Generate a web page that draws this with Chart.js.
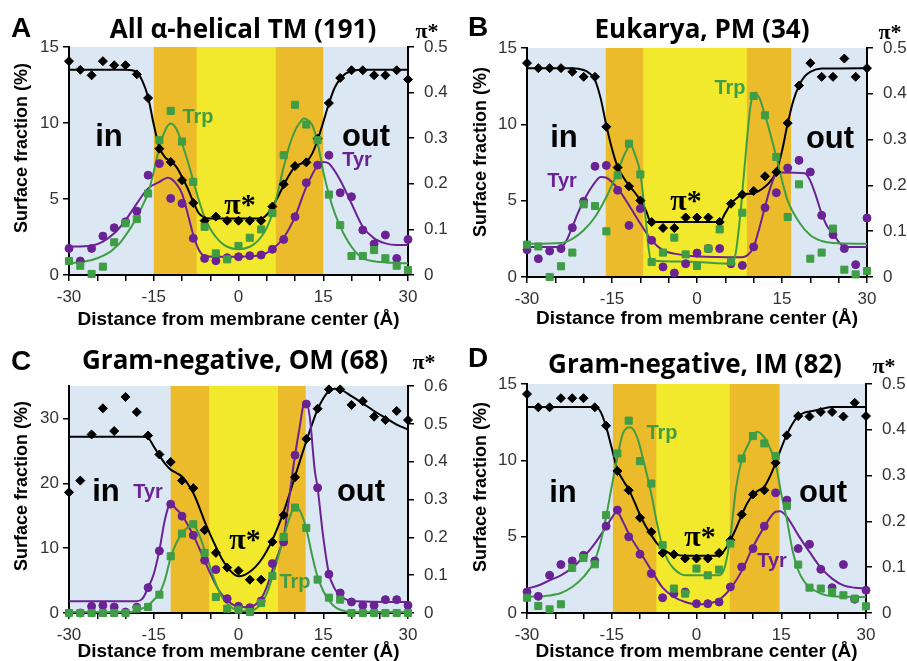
<!DOCTYPE html>
<html>
<head>
<meta charset="utf-8">
<script src="https://cdn.jsdelivr.net/npm/chart.js@4.4.0/dist/chart.umd.min.js"></script>
<style>
  body { margin: 0; background: #fff; width: 907px; height: 661px; overflow: hidden; position: relative; }
  canvas { position: absolute; }
</style>
</head>
<body>
<canvas id="pA" width="450" height="330" style="left:0;top:0"></canvas>
<canvas id="pB" width="457" height="330" style="left:450px;top:0"></canvas>
<canvas id="pC" width="450" height="331" style="left:0;top:330px"></canvas>
<canvas id="pD" width="457" height="331" style="left:450px;top:330px"></canvas>
<script>
// distance from membrane center (A), one point every 2 A
const dist = [-30,-28,-26,-24,-22,-20,-18,-16,-14,-12,-10,-8,-6,-4,-2,0,2,4,6,8,10,12,14,16,18,20,22,24,26,28,30];

// band edges: orange from b[0] to b[1], yellow b[1]..b[2], orange b[2]..b[3]
const aBands = [-15, -7.4, 6.6, 15];
const bBands = [-16.1, -9.5, 8.8, 16.6];
const cBands = [-12, -5.2, 7, 11.9];
const dBands = [-14.8, -7.1, 5.9, 14.7];

// ---- A: All alpha-helical TM (191)
const aTrp = [0.92,0.61,0.07,0.55,2.15,3.4,3.68,5.36,8.87,10.8,8.78,6.13,3.17,1.42,1.03,1.91,2.45,3.0,4.07,7.88,11.2,9.9,8.87,5.29,3.28,1.25,1.25,1.64,1.1,0.61,0.33];
const aTyr = [1.75,0.92,1.75,2.56,3.11,3.5,4.2,6.57,7.33,5.04,4.71,2.41,1.09,0.94,1.14,1.2,1.27,1.31,1.69,2.34,3.83,6.07,7.23,7.88,5.41,5.15,2.96,2.04,2.63,1.09,2.34];
const aPi  = [0.469,0.45,0.438,0.469,0.46,0.46,0.44,0.388,0.277,0.248,0.208,0.158,0.119,0.128,0.119,0.119,0.119,0.119,0.15,0.199,0.239,0.247,0.299,0.377,0.432,0.449,0.449,0.438,0.438,0.449,0.429];
const aTrpFit = [[-30,0.77],[-27,0.9],[-25,1.1],[-23,1.45],[-22,1.75],[-21,2.1],[-20,2.6],[-19,3.15],[-18,3.8],[-17,4.55],[-16,5.4],[-15,6.8],[-14,8.4],[-13,9.5],[-12,9.96],[-11,9.6],[-10,8.65],[-9,7.5],[-8,6.2],[-7,4.9],[-6,3.8],[-5,3.05],[-4,2.5],[-3,2.1],[-2,1.86],[0,1.7],[2,1.86],[3,2.1],[4,2.5],[5,3.1],[6,4.05],[7,5.5],[8,7.1],[9,8.5],[10,9.5],[11,10.1],[11.5,10.3],[12,10.25],[13,9.9],[14,8.7],[15,6.8],[16,5.3],[17,4.1],[18,3.2],[19,2.45],[20,1.86],[21,1.4],[22,1.1],[24,0.9],[27,0.8],[30,0.77]];
const aTyrFit = [[-30,1.86],[-26,1.93],[-24,2.2],[-22,2.74],[-20,3.6],[-18,4.7],[-16,5.7],[-14,6.13],[-12.5,6.39],[-11,6.0],[-10,5.36],[-9,4.05],[-8,2.63],[-7,1.64],[-6,1.25],[-4,1.2],[0,1.2],[4,1.31],[6,1.69],[8,2.47],[10,3.83],[12,5.8],[14,7.2],[15,7.44],[16,7.33],[18,6.24],[20,4.7],[22,3.17],[24,2.41],[26,2.08],[28,1.97],[30,1.97]];
const aPiFit = [[-30,0.45],[-20,0.45],[-18,0.445],[-17,0.425],[-16,0.39],[-15,0.33],[-14,0.28],[-13,0.258],[-12,0.25],[-11,0.237],[-10,0.215],[-9,0.19],[-8,0.16],[-7,0.135],[-6,0.126],[-5,0.124],[4,0.124],[5,0.132],[6,0.15],[7,0.172],[8,0.197],[9,0.22],[10,0.237],[11,0.244],[12,0.248],[13,0.265],[14,0.296],[15,0.335],[16,0.376],[17,0.41],[18,0.43],[19,0.442],[20,0.447],[22,0.45],[30,0.45]];

// ---- B: Eukarya, PM (34)
const bTrp = [2.12,2.0,0,0.7,1.6,4.76,4.65,2.99,6.66,8.73,6.72,0.98,1.6,2.58,1.48,0.72,1.86,3.12,1.0,4.21,11.86,10.59,7.86,3.93,6.07,1.2,1.6,3.17,0.48,0.17,0.39];
const bTyr = [1.79,1.2,1.7,1.86,3.23,4.96,7.25,7.31,5.68,3.38,4.48,2.4,0.66,0.26,0.87,1.57,1.86,1.86,0.87,0.76,1.97,4.54,5.52,7.14,7.64,6.88,4.04,2.77,1.86,0.81,3.86];
const bPi  = [0.467,0.456,0.456,0.456,0.448,0.437,0.437,0.328,0.239,0.198,0.167,0.12,0.107,0.107,0.13,0.13,0.13,0.12,0.16,0.18,0.188,0.22,0.229,0.336,0.418,0.467,0.437,0.437,0.477,0.437,0.456];
const bTrpFit = [[-30,2.18],[-24,2.23],[-22,2.5],[-20,3.06],[-18,3.93],[-16,5.24],[-14,6.88],[-13,7.86],[-12,8.6],[-11.8,8.73],[-11,8.08],[-10,6.77],[-9.1,3.93],[-8.2,1.2],[-7,1.05],[0,0.98],[6,0.87],[6.8,1.5],[7.6,3.93],[8.5,7.64],[9.4,11.1],[10,11.9],[10.6,11.9],[12,10.6],[14,7.86],[15.3,5.9],[16,5.0],[18,3.6],[20,2.73],[22,2.36],[24,2.23],[30,2.18]];
const bTyrFit = [[-30,1.96],[-24,1.96],[-23,2.4],[-22,3.28],[-21,4.2],[-20,5.0],[-18,6.2],[-17,6.55],[-16,6.5],[-14,5.8],[-12,4.7],[-10,3.5],[-8,2.4],[-6,1.75],[-4,1.53],[0,1.35],[8,1.3],[9,1.45],[10,1.97],[11,3.2],[12,4.6],[13,5.9],[14,6.77],[15,6.85],[19,6.8],[20,6.3],[21,5.3],[22,4.15],[23,3.3],[24,2.84],[25,2.3],[26,1.96],[30,1.96]];
const bPiFit = [[-30,0.456],[-22,0.456],[-20,0.452],[-19,0.445],[-18,0.43],[-17,0.39],[-16,0.331],[-15,0.28],[-14,0.24],[-13,0.218],[-12,0.2],[-11,0.185],[-10,0.167],[-9,0.145],[-8.3,0.122],[-8,0.12],[4,0.12],[5,0.14],[6,0.16],[7,0.172],[8,0.18],[10,0.183],[12,0.197],[13,0.21],[14,0.23],[15,0.275],[16,0.335],[17,0.385],[18,0.418],[19,0.438],[20,0.448],[22,0.455],[30,0.456]];

// ---- C: Gram-negative, OM (68)
const cTrp = [0,0,0,0,0,0,0.67,0.93,2.83,8.75,12.25,13.69,9.26,2.47,0.67,0.51,0.15,1.54,5.71,11.73,16.26,13.12,5.15,2.37,2.06,0,0,0,0,0,0];
const cTyr = [0,0,1.03,1.18,0.93,0.15,0.9,3.91,9.57,16.78,14.93,11.99,8.13,6.69,2.21,1.03,0.82,1.85,7.62,10.96,24.34,32.22,19.3,5.97,3.09,1.7,1.18,1.18,2.06,2.06,1.18];
const cPi  = [0.319,0.35,0.472,0.541,0.481,0.571,0.531,0.469,0.419,0.399,0.35,0.33,0.219,0.159,0.12,0.112,0.088,0.088,0.188,0.259,0.359,0.46,0.54,0.591,0.591,0.55,0.56,0.519,0.51,0.534,0.51];
const cTrpFit = [[-30,0.15],[-19,0.15],[-18,0.4],[-17,0.7],[-16,1.2],[-15,2.0],[-14,3.0],[-13,5.2],[-12,8.6],[-11,10.8],[-10,12.25],[-9,13.2],[-8.3,13.5],[-7.5,13.0],[-6.8,11.7],[-6,9.7],[-5,7.0],[-4,4.5],[-3,2.6],[-2,1.44],[-1,0.7],[0,0.4],[2,0.3],[3,0.6],[4,1.44],[5,3.0],[6,5.56],[7,8.6],[8,11.7],[9,14.6],[10,16.4],[10.8,15.9],[12,13.0],[13,9.0],[14,5.56],[15,3.4],[16,1.96],[17,1.0],[18,0.5],[20,0.15],[30,0.15]];
const cTyrFit = [[-30,1.8],[-18,1.8],[-17,2.2],[-16,3.9],[-15,6.0],[-14,9.7],[-13,14.5],[-12,16.9],[-11,16.0],[-10,15.1],[-9,13.6],[-8,12.0],[-7,10.1],[-6,8.1],[-5,6.1],[-4,4.3],[-3,2.9],[-2,1.96],[-1,1.3],[0,1.03],[1,0.9],[2,0.93],[3,1.3],[4,2.2],[5,4.0],[6,6.6],[7,9.0],[8,11.7],[9,18.0],[10,24.3],[10.8,28.5],[11.5,32.0],[12,32.3],[12.6,30.3],[13.5,22.0],[14,19.3],[15,11.7],[16,6.1],[17,3.8],[18,2.7],[19,2.1],[20,1.85],[30,1.7]];
const cPiFit = [[-30,0.466],[-17,0.466],[-16,0.463],[-15,0.44],[-14,0.416],[-13,0.395],[-12,0.379],[-11,0.37],[-10,0.361],[-9,0.342],[-8,0.317],[-7,0.282],[-6,0.242],[-5,0.207],[-4,0.175],[-3,0.145],[-2,0.122],[-1,0.105],[0,0.097],[1,0.1],[2,0.109],[3,0.122],[4,0.14],[5,0.164],[6,0.193],[7,0.228],[8,0.268],[9,0.313],[10,0.361],[11,0.408],[12,0.454],[13,0.498],[14,0.538],[15,0.567],[16,0.587],[17,0.593],[18,0.591],[20,0.573],[22,0.554],[24,0.534],[26,0.516],[28,0.498],[30,0.485]];

// ---- D: Gram-negative, IM (82)
const dTrp = [1.0,0.46,0.24,0.57,2.95,3.6,3.19,6.41,10.45,12.6,9.95,8.48,4.44,1.6,1.27,2.91,2.47,2.84,4.55,10.12,11.59,11.11,10.28,7.02,3.17,1.66,1.6,1.38,1.16,0.94,0.44];
const dTyr = [1.38,1.09,2.47,3.17,3.41,3.78,3.41,5.69,6.74,4.99,3.85,2.58,1.0,1.27,1.38,0.61,0.61,0.72,1.71,3.02,4.22,5.69,7.87,7.39,4.22,4.5,2.86,1.66,3.17,0.9,1.49];
const dPi  = [0.478,0.449,0.449,0.469,0.469,0.469,0.449,0.409,0.31,0.268,0.208,0.177,0.131,0.128,0.119,0.119,0.119,0.131,0.159,0.215,0.259,0.268,0.328,0.388,0.43,0.429,0.439,0.439,0.429,0.459,0.43];
const dTrpFit = [[-30,1.05],[-26,1.15],[-24,1.31],[-22,1.7],[-20,2.36],[-18,3.45],[-17,4.6],[-16,6.3],[-15,8.3],[-14,10.2],[-13,11.8],[-11.7,12.16],[-10.5,11.5],[-9.4,10.0],[-8,7.8],[-7,5.9],[-6,4.3],[-5,3.4],[-4,2.9],[-3,2.6],[-2,2.47],[4,2.47],[5,3.0],[6,5.0],[7,8.2],[8,10.0],[9.5,11.3],[10.7,11.87],[12,11.5],[13,10.8],[14,9.8],[15,7.8],[16,6.1],[17,4.1],[18,2.8],[19,2.1],[20,1.7],[22,1.27],[24,1.1],[30,1.05]];
const dTyrFit = [[-30,1.6],[-28,1.8],[-26,2.14],[-24,2.47],[-22,2.97],[-20,3.67],[-18,4.55],[-16,5.64],[-14.7,6.4],[-14.1,6.63],[-13,5.97],[-12,5.2],[-10,4.0],[-8,2.8],[-6,1.66],[-4,1.05],[-2,0.72],[0,0.57],[2,0.61],[4,0.87],[6,1.6],[8,2.76],[10,4.33],[12,5.64],[14,6.63],[14.8,6.67],[16,6.3],[18,5.1],[20,4.0],[22,2.97],[24,2.25],[26,1.81],[28,1.66],[30,1.6]];
const dPiFit = [[-30,0.45],[-18,0.45],[-17,0.44],[-16,0.407],[-15,0.36],[-14,0.313],[-13,0.29],[-12,0.27],[-11,0.243],[-10,0.214],[-9,0.19],[-8,0.17],[-7,0.152],[-6,0.141],[-5,0.132],[-4,0.128],[-2,0.125],[4,0.125],[5,0.138],[6,0.159],[7,0.185],[8,0.214],[9,0.24],[10,0.258],[11,0.268],[12,0.276],[13,0.298],[14,0.327],[15,0.36],[16,0.39],[17,0.413],[18,0.43],[19,0.437],[20,0.44],[22,0.445],[24,0.45],[30,0.45]];

const GREEN = '#3f9d45', PURPLE = '#6a2295', BLUE_BG = '#dbe8f3', ORANGE = '#ecbb2b', YELLOW = '#f2e82c';
const SANS = '"Liberation Sans", Arial, sans-serif';
const F_LETTER = 'bold 28px ' + SANS;
const F_TITLE = 'bold 26px "Open Sans", sans-serif';
const F_PISMALL = 'bold 22px "Liberation Serif", serif';
const F_INOUT = 'bold 31px ' + SANS;
const F_SER = 'bold 20px ' + SANS;
const F_PIBIG = 'bold 30px "Liberation Serif", serif';
const F_YTITLE = 'bold 18px ' + SANS;
const F_XTITLE = 'bold 19px ' + SANS;

function pairs(arr) { return arr.map(p => ({x: p[0], y: p[1]})); }
function pts(vals) { return vals.map((v, i) => ({x: dist[i], y: v})); }

function fitSet(arr, color, axis) {
  return { type: 'line', data: pairs(arr), yAxisID: axis, borderColor: color, borderWidth: 2,
    pointRadius: 0, fill: false, cubicInterpolationMode: 'monotone', clip: 4, order: 2 };
}
function ptSet(vals, color, style, r, axis) {
  return { type: 'scatter', data: pts(vals), yAxisID: axis, backgroundColor: color, borderColor: color,
    borderWidth: 1, pointStyle: style, pointRadius: r, clip: false, order: 1 };
}

const bgPlugin = {
  id: 'bands',
  beforeDraw(chart, args, opts) {
    const {ctx, chartArea: a, scales: {x}} = chart;
    const b = opts.edges;
    ctx.save();
    ctx.fillStyle = BLUE_BG;
    ctx.fillRect(a.left, a.top, a.right - a.left, a.bottom - a.top);
    ctx.fillStyle = ORANGE;
    ctx.fillRect(x.getPixelForValue(b[0]), a.top, x.getPixelForValue(b[3]) - x.getPixelForValue(b[0]), a.bottom - a.top);
    ctx.fillStyle = YELLOW;
    ctx.fillRect(x.getPixelForValue(b[1]), a.top, x.getPixelForValue(b[2]) - x.getPixelForValue(b[1]), a.bottom - a.top);
    ctx.restore();
  }
};

const textPlugin = {
  id: 'texts',
  afterDraw(chart, args, opts) {
    const ctx = chart.ctx, a = chart.chartArea;
    ctx.save();
    ctx.textBaseline = 'middle';
    opts.items.forEach(t => {
      ctx.font = t[3];
      ctx.fillStyle = t[4];
      ctx.textAlign = t[5] || 'center';
      ctx.fillText(t[0], t[1], t[2]);
    });
    ctx.fillStyle = '#000';
    ctx.textAlign = 'center';
    // x axis title
    ctx.font = F_XTITLE;
    ctx.fillText('Distance from membrane center (\u00c5)', (a.left + a.right) / 2, opts.xTitleY);
    // rotated left axis title
    ctx.font = F_YTITLE;
    ctx.translate(opts.yTitle[0], opts.yTitle[1]);
    ctx.rotate(-Math.PI / 2);
    ctx.fillText('Surface fraction (%)', 0, 0);
    ctx.restore();
  }
};

function panel(id, p) {
  const W = p.W, H = p.H;
  new Chart(document.getElementById(id), {
    data: { datasets: [
      fitSet(p.trpFit, GREEN, 'y'),
      fitSet(p.tyrFit, PURPLE, 'y'),
      fitSet(p.piFit, '#000', 'y1'),
      ptSet(p.trp, GREEN, 'rect', 5, 'y'),
      ptSet(p.tyr, PURPLE, 'circle', 4, 'y'),
      ptSet(p.pi, '#000', 'rectRot', 4.5, 'y1')
    ]},
    options: {
      responsive: false,
      animation: false,
      layout: { padding: { top: p.top, left: 0, right: 0, bottom: 0 } },
      plugins: {
        legend: { display: false },
        tooltip: { enabled: false },
        bands: { edges: p.bands },
        texts: { items: p.texts, yTitle: p.yTitle, xTitleY: p.xTitleY }
      },
      scales: {
        x: {
          type: 'linear', min: -30, max: 30,
          ticks: { stepSize: 5, autoSkip: false, maxRotation: 0, padding: 6, color: '#333',
            font: { family: SANS, size: 17 },
            callback: v => (v % 15 === 0 ? String(v) : '') },
          grid: { drawOnChartArea: false, drawTicks: true, tickLength: 6, color: '#000', lineWidth: 1.5 },
          border: { display: true, color: '#000', width: 2 },
          afterFit: s => { s.height = H - p.bottom; }
        },
        y: {
          position: 'left', min: 0, max: p.yMax,
          ticks: { stepSize: p.yStep, includeBounds: false, padding: 4, color: '#333',
            font: { family: SANS, size: 17 } },
          grid: { drawOnChartArea: false, drawTicks: true, tickLength: 6, color: '#000', lineWidth: 1.5 },
          border: { display: true, color: '#000', width: 2 },
          afterFit: s => { s.width = p.left; }
        },
        y1: {
          position: 'right', min: 0, max: p.piMax,
          ticks: { stepSize: 0.1, padding: 10, color: '#333',
            font: { family: SANS, size: 17 } },
          grid: { drawOnChartArea: false, drawTicks: true, tickLength: 6, color: '#000', lineWidth: 1.5 },
          border: { display: true, color: '#000', width: 2 },
          afterFit: s => { s.width = W - p.right; }
        }
      }
    },
    plugins: [bgPlugin, textPlugin]
  });
}

panel('pA', {
  W: 450, H: 330, left: 69, right: 408, top: 47, bottom: 275,
  yMax: 15, yStep: 5, piMax: 0.5, bands: aBands,
  trp: aTrp, tyr: aTyr, pi: aPi, trpFit: aTrpFit, tyrFit: aTyrFit, piFit: aPiFit,
  yTitle: [22, 148], xTitleY: 320,
  texts: [
    ['A', 11, 29, F_LETTER, '#000', 'left'],
    ['All \u03b1-helical TM (191)', 243, 31, F_TITLE, '#000'],
    ['\u03c0*', 427, 32, F_PISMALL, '#000'],
    ['in', 109, 137, F_INOUT, '#000'],
    ['out', 366, 137, F_INOUT, '#000'],
    ['Trp', 198, 117, F_SER, GREEN],
    ['Tyr', 357, 160, F_SER, PURPLE],
    ['\u03c0*', 240, 206, F_PIBIG, '#000']
  ]
});

panel('pB', {
  W: 457, H: 330, left: 77, right: 417, top: 48, bottom: 277,
  yMax: 15, yStep: 5, piMax: 0.5, bands: bBands,
  trp: bTrp, tyr: bTyr, pi: bPi, trpFit: bTrpFit, tyrFit: bTyrFit, piFit: bPiFit,
  yTitle: [31, 152], xTitleY: 319,
  texts: [
    ['B', 18, 28, F_LETTER, '#000', 'left'],
    ['Eukarya, PM (34)', 252, 31, F_TITLE, '#000'],
    ['\u03c0*', 440, 33, F_PISMALL, '#000'],
    ['in', 114, 138, F_INOUT, '#000'],
    ['out', 380, 139, F_INOUT, '#000'],
    ['Trp', 280, 88, F_SER, GREEN],
    ['Tyr', 112, 181, F_SER, PURPLE],
    ['\u03c0*', 236, 202, F_PIBIG, '#000']
  ]
});

panel('pC', {
  W: 450, H: 331, left: 69, right: 408, top: 56, bottom: 283,
  yMax: 35, yStep: 10, piMax: 0.6, bands: cBands,
  trp: cTrp, tyr: cTyr, pi: cPi, trpFit: cTrpFit, tyrFit: cTyrFit, piFit: cPiFit,
  yTitle: [22, 156], xTitleY: 322,
  texts: [
    ['C', 11, 32, F_LETTER, '#000', 'left'],
    ['Gram-negative, OM (68)', 235, 32, F_TITLE, '#000'],
    ['\u03c0*', 424, 33, F_PISMALL, '#000'],
    ['in', 106, 162, F_INOUT, '#000'],
    ['Tyr', 148, 162, F_SER, PURPLE],
    ['out', 361, 162, F_INOUT, '#000'],
    ['\u03c0*', 245, 211, F_PIBIG, '#000'],
    ['Trp', 295, 252, F_SER, GREEN]
  ]
});

panel('pD', {
  W: 457, H: 331, left: 77, right: 416, top: 54, bottom: 283,
  yMax: 15, yStep: 5, piMax: 0.5, bands: dBands,
  trp: dTrp, tyr: dTyr, pi: dPi, trpFit: dTrpFit, tyrFit: dTyrFit, piFit: dPiFit,
  yTitle: [31, 157], xTitleY: 322,
  texts: [
    ['D', 18, 29, F_LETTER, '#000', 'left'],
    ['Gram-negative, IM (82)', 245, 36, F_TITLE, '#000'],
    ['\u03c0*', 434, 37, F_PISMALL, '#000'],
    ['in', 113, 163, F_INOUT, '#000'],
    ['out', 373, 163, F_INOUT, '#000'],
    ['Trp', 212, 103, F_SER, GREEN],
    ['\u03c0*', 250, 208, F_PIBIG, '#000'],
    ['Tyr', 322, 231, F_SER, PURPLE]
  ]
});
</script>
</body>
</html>
